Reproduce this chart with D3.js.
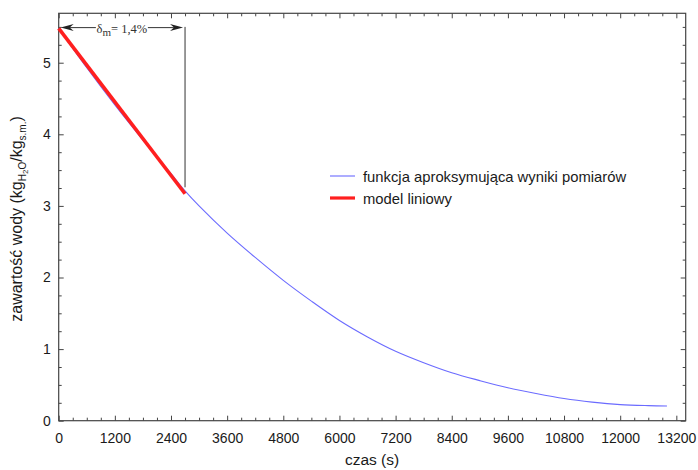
<!DOCTYPE html>
<html>
<head>
<meta charset="utf-8">
<script src="https://cdn.jsdelivr.net/npm/d3@7"></script>
<style>
  html, body { margin: 0; padding: 0; background: #fff; }
  svg { display: block; font-family: "Liberation Sans", Arial, sans-serif; }
</style>
</head>
<body>
<svg id="chart" width="698" height="470"></svg>
<script>
// ---- data ----
const timeS      = [0, 600, 1200, 1800, 2400, 2700, 3000, 3600, 4200, 4800, 5400, 6000, 6600, 7200, 7800, 8400, 9000, 9600, 10200, 10800, 11400, 12000, 12600, 13000];
const waterFit   = [5.48, 4.93, 4.41, 3.92, 3.45, 3.21, 3.00, 2.62, 2.28, 1.96, 1.67, 1.40, 1.17, 0.97, 0.81, 0.67, 0.56, 0.46, 0.38, 0.31, 0.26, 0.225, 0.21, 0.205];
const linearTime = [0, 2700];
const linearVal  = [5.48, 3.17];
const xTickLabels = [0, 1200, 2400, 3600, 4800, 6000, 7200, 8400, 9600, 10800, 12000, 13200];
const yTickLabels = [0, 1, 2, 3, 4, 5];
const seriesNames = ["funkcja aproksymująca wyniki pomiarów", "model liniowy"];
const deltaTime = 2700;
const deltaText = "1,4%";

// ---- layout ----
const svg = d3.select("#chart");
const L = 58.7, T = 13.3, R = 685.7, B = 420.7;
const x = d3.scaleLinear().domain([0, 13400]).range([L, R]);
const y = d3.scaleLinear().domain([0, 5.69]).range([B, T]);

const frameColor = "#444";
const textColor = "#1a1a1a";

// minor ticks
const xMinor = d3.range(0, 13401, 300).filter(v => v % 1200 !== 0);
const yMinor = d3.range(0, 5.69, 0.25).filter(v => Math.abs(v - Math.round(v)) > 1e-6);

function styleAxis(g) {
  g.select(".domain").remove();
  g.selectAll("line").attr("stroke", frameColor);
  g.selectAll("text").attr("fill", textColor).style("font-size", "14px")
    .style("font-family", "'Liberation Sans', Arial, sans-serif");
}

// bottom
svg.append("g").attr("transform", `translate(0,${B})`)
  .call(d3.axisBottom(x).tickValues(xTickLabels).tickSize(-5).tickPadding(12).tickFormat(d3.format("d")))
  .call(styleAxis);
svg.append("g").attr("transform", `translate(0,${B})`)
  .call(d3.axisBottom(x).tickValues(xMinor).tickSize(-3).tickFormat(""))
  .call(styleAxis);
// top
svg.append("g").attr("transform", `translate(0,${T})`)
  .call(d3.axisTop(x).tickValues(xTickLabels).tickSize(-5).tickFormat(""))
  .call(styleAxis);
svg.append("g").attr("transform", `translate(0,${T})`)
  .call(d3.axisTop(x).tickValues(xMinor).tickSize(-3).tickFormat(""))
  .call(styleAxis);
// left
svg.append("g").attr("transform", `translate(${L},0)`)
  .call(d3.axisLeft(y).tickValues(yTickLabels).tickSize(-5).tickPadding(8).tickFormat(d3.format("d")))
  .call(styleAxis);
svg.append("g").attr("transform", `translate(${L},0)`)
  .call(d3.axisLeft(y).tickValues(yMinor).tickSize(-3).tickFormat(""))
  .call(styleAxis);
// right
svg.append("g").attr("transform", `translate(${R},0)`)
  .call(d3.axisRight(y).tickValues(yTickLabels).tickSize(-5).tickFormat(""))
  .call(styleAxis);
svg.append("g").attr("transform", `translate(${R},0)`)
  .call(d3.axisRight(y).tickValues(yMinor).tickSize(-3).tickFormat(""))
  .call(styleAxis);

// frame
svg.append("rect").attr("x", L).attr("y", T).attr("width", R - L).attr("height", B - T)
  .attr("fill", "none").attr("stroke", frameColor).attr("stroke-width", 1.2);

// series
const fitData = timeS.map((t, i) => [t, waterFit[i]]);
const linData = linearTime.map((t, i) => [t, linearVal[i]]);
const line = d3.line().x(d => x(d[0])).y(d => y(d[1])).curve(d3.curveCatmullRom.alpha(0.5));

svg.append("path").datum(fitData).attr("d", line)
  .attr("fill", "none").attr("stroke", "#6b6bff").attr("stroke-width", 1.1);
svg.append("path").datum(linData).attr("d", d3.line().x(d => x(d[0])).y(d => y(d[1])))
  .attr("fill", "none").attr("stroke", "#ff1f1f").attr("stroke-width", 3.6);

// annotation: vertical line and double arrow
const annY = y(5.49);
svg.append("line").attr("x1", x(deltaTime)).attr("x2", x(deltaTime))
  .attr("y1", y(5.5)).attr("y2", y(3.26))
  .attr("stroke", "#333").attr("stroke-width", 1);
const ax0 = x(0) + 2, ax1 = x(deltaTime) - 2;
svg.append("line").attr("x1", ax0 + 8).attr("x2", ax1 - 8).attr("y1", annY).attr("y2", annY)
  .attr("stroke", "#333").attr("stroke-width", 1);
function arrowHead(tipX, dir) {
  const len = 13, hw = 3.5, notch = 9;
  const p = [
    [tipX, annY],
    [tipX + dir * len, annY - hw],
    [tipX + dir * notch, annY],
    [tipX + dir * len, annY + hw]
  ];
  svg.append("path").attr("d", "M" + p.map(q => q.join(",")).join("L") + "Z").attr("fill", "#222");
}
arrowHead(ax0, 1);
arrowHead(ax1, -1);
const midX = (x(0) + x(deltaTime)) / 2;
svg.append("rect").attr("x", midX - 26).attr("y", annY - 6).attr("width", 52).attr("height", 12).attr("fill", "#fff");
const dt = svg.append("text").attr("x", midX).attr("y", annY + 5).attr("text-anchor", "middle")
  .style("font-family", "'Liberation Serif', 'Times New Roman', serif").style("font-size", "12.5px").attr("fill", "#333");
dt.append("tspan").text("δ");
dt.append("tspan").attr("dy", 3).style("font-size", "11px").text("m");
dt.append("tspan").attr("dy", -3).text("= " + deltaText);

// legend
const legX = 330, legY = [176, 198];
const legColors = ["#6b6bff", "#ff1f1f"], legW = [1.1, 3.2];
seriesNames.forEach((name, i) => {
  svg.append("line").attr("x1", legX).attr("x2", legX + 25).attr("y1", legY[i]).attr("y2", legY[i])
    .attr("stroke", legColors[i]).attr("stroke-width", legW[i]);
  svg.append("text").attr("x", legX + 33).attr("y", legY[i] + 5.5)
    .style("font-size", "14.8px").attr("fill", textColor).text(name);
});

// axis titles
svg.append("text").attr("x", 372).attr("y", 465).attr("text-anchor", "middle")
  .style("font-size", "15.5px").attr("fill", textColor).text("czas (s)");

const yt = svg.append("text").attr("transform", `translate(22,${(T + B) / 2 + 2}) rotate(-90)`)
  .attr("text-anchor", "middle").style("font-size", "16px").attr("fill", textColor);
yt.append("tspan").text("zawartość wody (kg");
yt.append("tspan").attr("dy", 4).style("font-size", "10px").text("H");
yt.append("tspan").attr("dy", 2).style("font-size", "8px").text("2");
yt.append("tspan").attr("dy", -2).style("font-size", "10px").text("O");
yt.append("tspan").attr("dy", -4).text("/kg");
yt.append("tspan").attr("dy", 4).style("font-size", "10px").text("s.m.");
yt.append("tspan").attr("dy", -4).text(")");
</script>
</body>
</html>
